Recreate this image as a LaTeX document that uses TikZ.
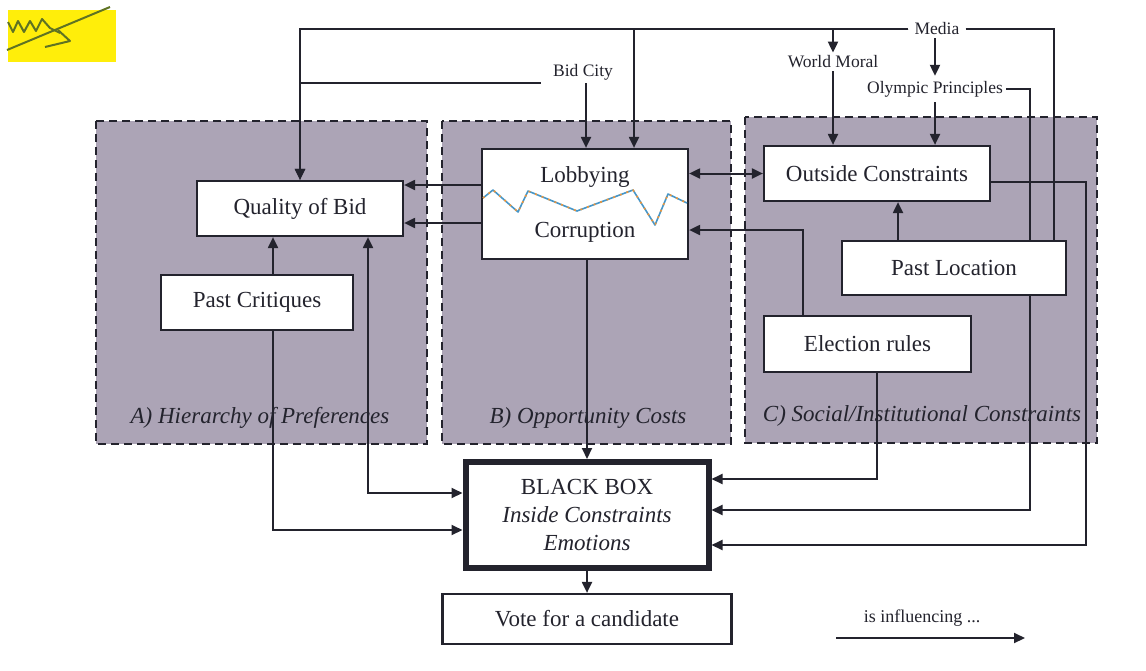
\documentclass[tikz,border=0pt]{standalone}
\usepackage{fontspec}
\setmainfont{Liberation Serif}
\usetikzlibrary{arrows.meta,calc}
\definecolor{regionfill}{RGB}{172,164,182}
\definecolor{ink}{RGB}{35,35,45}
\definecolor{hiyellow}{RGB}{255,238,10}
\definecolor{scribble}{RGB}{95,115,35}
\definecolor{zigA}{RGB}{70,150,200}
\definecolor{zigB}{RGB}{235,150,60}
\pgfdeclarelayer{regions}
\pgfdeclarelayer{lines}
\pgfsetlayers{regions,lines,main}
\tikzset{
  box/.style={draw=ink, line width=2.2pt, fill=white, text=ink, inner sep=0pt,
    font=\fontsize{23}{27}\selectfont, align=center},
  region/.style={draw=ink, line width=2pt, dash pattern=on 8pt off 5pt, fill=regionfill},
  conn/.style={draw=ink, line width=2pt},
  arr/.style={conn, -{Triangle[length=11pt,width=10pt]}},
  darr/.style={conn, {Triangle[length=11pt,width=10pt]}-{Triangle[length=11pt,width=10pt]}},
  lbl/.style={font=\fontsize{17.5}{20}\selectfont, text=ink, inner sep=3pt},
  reglbl/.style={font=\fontsize{23}{27}\selectfont\itshape, text=ink, inner sep=0pt},
}
\begin{document}
\begin{tikzpicture}[x=1pt,y=-1pt]
\useasboundingbox (0,0) rectangle (1146,670);

% background and regions
\begin{pgfonlayer}{regions}
\fill[white] (0,0) rectangle (1146,670);
\draw[region] (96,121) rectangle (427,444);
\draw[region] (442,121) rectangle (731,444);
\draw[region] (745,117) rectangle (1097,443);
\end{pgfonlayer}

% highlighter mark
\fill[hiyellow] (8,10) rectangle (116,62);
\draw[scribble, line width=2pt, line join=round] (8,22) -- (13,32) -- (18,21) -- (24,32) -- (30,21) -- (36,31) -- (42,19) -- (50,28) -- (60,33);
\draw[scribble, line width=2pt] (7,50) -- (110,7);
\draw[scribble, line width=2pt, line join=round] (45,47) -- (70,41) -- (58,30);

\node[reglbl] (labA) at (260,418) {A) Hierarchy of Preferences};
\node[reglbl] (labB) at (588,418) {B) Opportunity Costs};
\node[reglbl] (labC) at (922,416) {C) Social/Institutional Constraints};

% boxes
\node[box, minimum width=206pt, minimum height=55pt] (quality) at (300,208.5) {Quality of Bid};
\node[box, minimum width=192pt, minimum height=55pt] (critiques) at (257,302.5) {Past Critiques};
\node[box, minimum width=206pt, minimum height=110pt] (lobby) at (585,204) {Lobbying\\[28pt]Corruption};
\node[box, minimum width=226pt, minimum height=55pt] (outside) at (877,173.5) {Outside Constraints};
\node[box, minimum width=224pt, minimum height=54pt] (pastloc) at (954,268) {Past Location};
\node[box, minimum width=207pt, minimum height=56pt] (election) at (867.5,344) {Election rules};
\node[box, line width=6pt, minimum width=243pt, minimum height=106pt,
  font=\fontsize{23}{28}\selectfont] (bb) at (587,515)
  {BLACK BOX\\\textit{Inside Constraints}\\\textit{Emotions}};
\node[box, minimum width=289pt, minimum height=50pt] (vote) at (587,619) {Vote for a candidate};

% zigzag inside the lobbying box
\draw[zigA, line width=1.6pt, line join=round] (483,198) -- (493,190) -- (518,212) -- (528,191) -- (577,211) -- (633,190) -- (655,225) -- (668,194) -- (687,203);
\draw[zigB, line width=1.6pt, dash pattern=on 2pt off 5pt] (483,198) -- (493,190) -- (518,212) -- (528,191) -- (577,211) -- (633,190) -- (655,225) -- (668,194) -- (687,203);

% outside labels
\node[lbl, inner xsep=6pt] (media) at (937,29) {Media};
\node[lbl] (worldmoral) at (833,62) {World Moral};
\node[lbl, inner ysep=5pt] (olympic) at (935,89) {Olympic Principles};
\node[lbl] (bidcity) at (583,72) {Bid City};
\node[lbl, font=\fontsize{18}{20}\selectfont] (legend) at (922,618) {is influencing ...};

\coordinate (xOly) at (1030,0);
\coordinate (xMed) at (1054,0);
\coordinate (xPL) at (898,0);
\coordinate (xOC) at (1086,0);
\coordinate (xEl) at (803,0);
\coordinate (xEl2) at (877,0);
\coordinate (xPC) at (273,0);
\coordinate (xQ) at (368,0);
\coordinate (leg1) at (836,638);
\coordinate (leg2) at (1025,638);

\begin{pgfonlayer}{lines}
% media
\draw[arr] (media.west) -| (quality.north);
\draw[arr] (media.west) -| ($(lobby.north)+(49,0)$);
\draw[arr] (media.west) -| (worldmoral.north);
\draw[arr] (olympic.north |- media.south) -- (olympic.north);
\draw[conn] (media.east) -| (xMed |- pastloc.north);
% bid city
\draw[arr] ($(bidcity.south west)+(-9,0)$) -| (quality.north);
\draw[arr] ($(bidcity.south)+(3,0)$) -- ($(bidcity.south |- lobby.north)+(3,0)$);
% world moral, olympic
\draw[arr] (worldmoral.south) -- (worldmoral.south |- outside.north);
\draw[arr] (olympic.south) -- (olympic.south |- outside.north);
\draw[conn] (olympic.east) -| (xOly |- pastloc.north);
% lobbying
\draw[arr] ($(lobby.west)+(0,-19)$) -- ($(quality.east)+(0,-23.5)$);
\draw[arr] ($(lobby.west)+(0,19)$) -- ($(quality.east)+(0,14.5)$);
\draw[darr] (lobby.east |- outside.west) -- (outside.west);
\draw[arr] (lobby.south -| bb.north) -- (bb.north);
% social / institutional
\draw[arr] (xPL |- pastloc.north) -- (xPL |- outside.south);
\draw[arr] (xEl |- election.north) |- ($(lobby.east)+(0,26)$);
\draw[arr] (xEl2 |- election.south) |- ($(bb.east)+(0,-36)$);
\draw[arr] (xOly |- pastloc.south) |- ($(bb.east)+(0,-5)$);
\draw[arr] ($(outside.east)+(0,8.5)$) -| (xOC |- bb.east) -- ($(xOC |- bb.east)+(0,30)$) -- ($(bb.east)+(0,30)$);
% hierarchy of preferences
\draw[arr] (xPC |- critiques.north) -- (xPC |- quality.south);
\draw[arr] (xPC |- critiques.south) |- ($(bb.west)+(0,15)$);
\draw[darr] (xQ |- quality.south) |- ($(bb.west)+(0,-22)$);
% vote
\draw[arr] (bb.south) -- (vote.north);
% legend
\draw[arr] (leg1) -- (leg2);
\end{pgfonlayer}
\end{tikzpicture}
\end{document}
